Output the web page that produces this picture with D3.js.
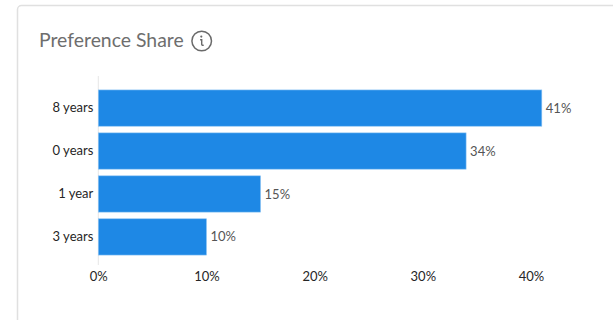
<!DOCTYPE html>
<html>
<head>
<meta charset="utf-8">
<script src="https://cdnjs.cloudflare.com/ajax/libs/d3/7.8.5/d3.min.js"></script>
<style>
  html, body { margin: 0; padding: 0; background: #fff; }
  svg { display: block; }
  text { font-family: Lato, "Open Sans", sans-serif; }
</style>
</head>
<body>
<script>
const categories = ["8 years", "0 years", "1 year", "3 years"];
const shares = [41, 34, 15, 10];
const tickValues = [0, 10, 20, 30, 40];
const chartTitle = "Preference Share";

const width = 613, height = 320;
const svg = d3.select("body").append("svg").attr("width", width).attr("height", height);

// Card outline, running off the right and bottom edges
svg.append("rect")
  .attr("x", 17.5).attr("y", 5.5)
  .attr("width", 700).attr("height", 500)
  .attr("rx", 4)
  .attr("fill", "#fff")
  .attr("stroke", "#e0e0e0")
  .attr("stroke-width", 1.5);

// Title and info badge
svg.append("text")
  .attr("x", 39).attr("y", 47)
  .attr("font-size", 19.4)
  .attr("fill", "#6e6e6e")
  .text(chartTitle);

const badge = svg.append("g").attr("transform", "translate(201.7,41)");
badge.append("circle").attr("r", 9.8).attr("fill", "none").attr("stroke", "#6a6a6a").attr("stroke-width", 1.5);
badge.append("circle").attr("cx", -0.4).attr("cy", -4.4).attr("r", 1.1).attr("fill", "#6a6a6a");
badge.append("path")
  .attr("d", "M-1.6,-1.2 H0 V3.2 Q0,4.6 2,4.2")
  .attr("fill", "none").attr("stroke", "#6a6a6a").attr("stroke-width", 1.4);

const x = d3.scaleLinear().domain([0, 40]).range([98.3, 531]);
const y = d3.scaleBand().domain(categories).range([86.6, 258.4]).paddingInner(0.155).paddingOuter(0.0775);

// Vertical baseline behind the bars
svg.append("line")
  .attr("x1", x(0)).attr("x2", x(0))
  .attr("y1", 76).attr("y2", 265)
  .attr("stroke", "#e6e6e6").attr("stroke-width", 1);

svg.append("g").selectAll("rect")
  .data(categories)
  .join("rect")
  .attr("x", x(0))
  .attr("y", d => y(d))
  .attr("width", (d, i) => x(shares[i]) - x(0))
  .attr("height", y.bandwidth())
  .attr("fill", "#1e88e5")
  .attr("stroke", "#8fc5f4")
  .attr("stroke-width", 0.6);

// Value labels at the bar ends
svg.append("g").selectAll("text")
  .data(categories)
  .join("text")
  .attr("x", (d, i) => x(shares[i]) + 4)
  .attr("y", d => y(d) + y.bandwidth() / 2)
  .attr("dy", "0.35em")
  .attr("font-size", 13)
  .attr("fill", "#555")
  .text((d, i) => shares[i] + "%");

// Category axis
const yAxis = svg.append("g")
  .attr("transform", `translate(${x(0) - 5},0)`)
  .call(d3.axisLeft(y).tickSize(0).tickPadding(0));
yAxis.select(".domain").remove();
yAxis.selectAll("text")
  .attr("font-size", 13)
  .attr("fill", "#262626")
  .style("font-family", "Lato, 'Open Sans', sans-serif");

// Percentage axis
const xAxis = svg.append("g")
  .attr("transform", "translate(0,265)")
  .call(d3.axisBottom(x).tickValues(tickValues).tickFormat(d => d + "%").tickSize(0).tickPadding(6.5));
xAxis.select(".domain").remove();
xAxis.selectAll("text")
  .attr("font-size", 13)
  .attr("fill", "#262626")
  .style("font-family", "Lato, 'Open Sans', sans-serif");
</script>
</body>
</html>
